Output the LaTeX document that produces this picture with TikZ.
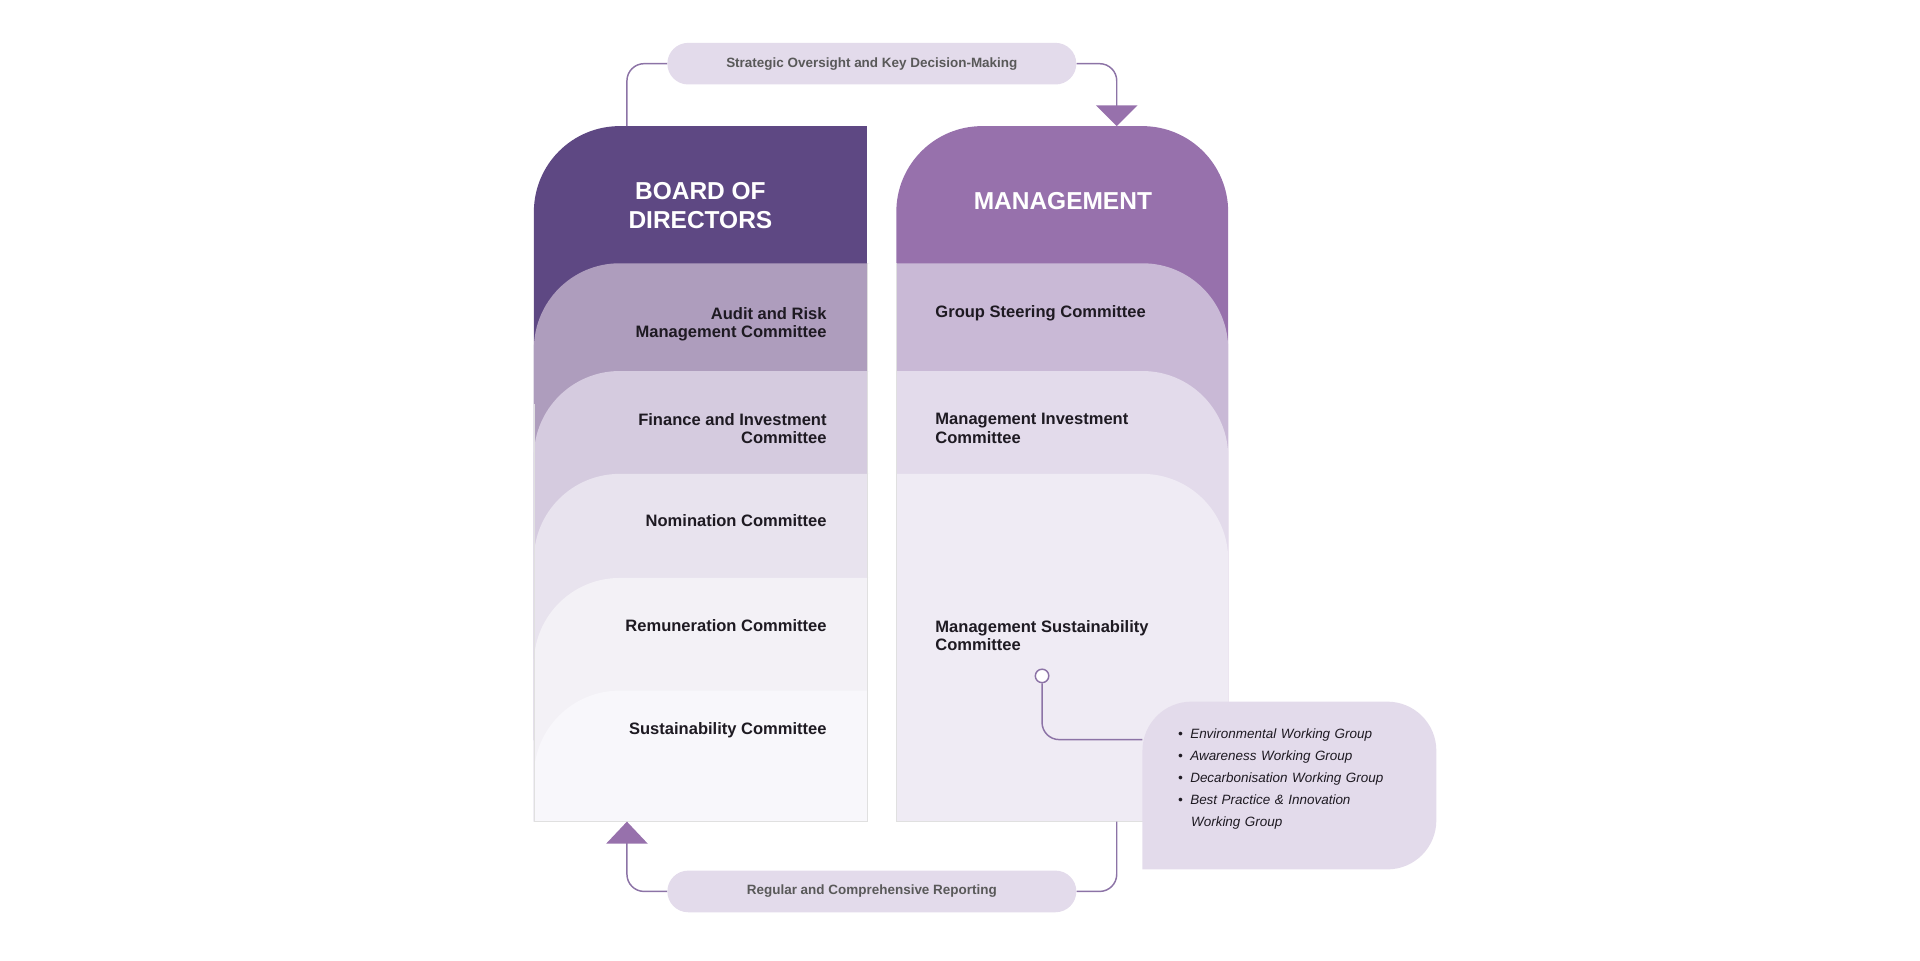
\documentclass[tikz,border=0pt]{standalone}
\usepackage{fontspec}
\setmainfont{Liberation Sans}
\usetikzlibrary{positioning}
\definecolor{bodDark}{HTML}{5E4883}
\definecolor{mgmDark}{HTML}{9771AC}
\definecolor{lineCol}{HTML}{8C73A6}
\definecolor{pillCol}{HTML}{E3DBEB}
\definecolor{txtCol}{HTML}{1E1A22}
\tikzset{
  band/.style={inner sep=0pt},
  lbl/.style={font=\bfseries\fontsize{13.5}{15}\selectfont, text=txtCol, inner sep=0.75pt},
  head/.style={font=\bfseries\fontsize{20}{24}\selectfont, text=white, inner sep=0.75pt},
  pill/.style={fill=pillCol, rounded corners=17pt, minimum width=334pt, minimum height=34pt, font=\bfseries\fontsize{11}{13}\selectfont, text=black!65},
  link/.style={draw=lineCol, line width=1.2pt, rounded corners=14pt},
  tip/.style={fill=mgmDark},
}
\begin{document}
\begin{tikzpicture}[x=1pt,y=-1pt]
\useasboundingbox (0,0) rectangle (1568,784);

%Board of directors column
\fill[bodDark, rounded corners=70pt] (708,671) -- (436,671) -- (436,103) -- (708,103) [sharp corners] -- cycle;
\fill[bodDark] (708,103) rectangle (600,671);
\foreach \y/\c in {215/AE9DBD,303/D5CBDF,387/E8E3EE,472/F3F1F6,564/F8F7FB}{
  \definecolor{bandCol}{HTML}{\c}
  \fill[bandCol] (708,671) -- (436,671) [rounded corners=70pt] -- (436,\y) -- (640,\y) [sharp corners] -- (708,\y) -- cycle;
}
\draw[black!12, line width=0.5pt] (436,330) -- (436,671) -- (708,671) -- (708,215);

%Management column
\fill[mgmDark, rounded corners=70pt] (732,671) -- (732,103) -- (1003,103) -- (1003,671) [sharp corners] -- cycle;
\foreach \y/\c in {215/C9B9D6,303/E3DBEB,387/EFEBF4}{
  \definecolor{bandCol}{HTML}{\c}
  \fill[bandCol] (732,671) -- (732,\y) -- (800,\y) [rounded corners=70pt] -- (1003,\y) [sharp corners] -- (1003,671) -- cycle;
}
\draw[black!12, line width=0.5pt] (732,215) -- (732,671) -- (1003,671);

%Headings and committee labels
\node[head, align=center] (bod) at (572,168) {BOARD OF\\DIRECTORS};
\node[head] (mgm) at (868,164) {MANAGEMENT};
\node[lbl, align=right, anchor=east] (arc) at (676,265) {Audit and Risk\\Management Committee};
\node[lbl, align=right, anchor=east] (fic) at (676,350) {Finance and Investment\\Committee};
\node[lbl, anchor=east] (nom) at (676,425) {Nomination Committee};
\node[lbl, anchor=east] (rem) at (676,511) {Remuneration Committee};
\node[lbl, anchor=east] (sus) at (676,596) {Sustainability Committee};
\node[lbl, anchor=west] (gsc) at (763,256) {Group Steering Committee};
\node[lbl, align=left, anchor=west] (mic) at (763,350) {Management Investment\\Committee};
\node[lbl, align=left, anchor=west] (msc) at (763,519) {Management Sustainability\\Committee};

%Working groups
\fill[pillCol, rounded corners=40pt] (933,710) -- (933,573) -- (1173,573) -- (1173,710) [sharp corners] -- cycle;
\node[font=\itshape\fontsize{11}{18}\selectfont, text=txtCol, align=left, anchor=north west, inner sep=0pt, text width=190pt] (wg) at (962,595)
  {\textbullet\hspace{6pt}Environmental Working Group\\
   \textbullet\hspace{6pt}Awareness Working Group\\
   \textbullet\hspace{6pt}Decarbonisation Working Group\\
   \textbullet\hspace{6pt}Best Practice \& Innovation\\
   \hspace{10.5pt}Working Group};
\node[circle, draw=lineCol, line width=1.2pt, fill=white, minimum size=11pt, inner sep=0pt] (dot) at (851,552) {};
\coordinate (wgIn) at (933,604);
\draw[link] (dot.south) -- (851,604) -- (wgIn);

%Oversight and reporting loops
\node[pill] (ovs) at (712,52) {Strategic Oversight and Key Decision-Making};
\node[pill] (rep) at (712,728) {Regular and Comprehensive Reporting};
\coordinate (bodTop) at (512,103);
\coordinate (mgmTop) at (912,88);
\coordinate (mgmBot) at (912,671);
\coordinate (bodBot) at (512,688);
\draw[link] (bodTop) |- (ovs.west);
\draw[link] (ovs.east) -| (mgmTop);
\fill[tip] (895,86) -- (929,86) -- (912,103) -- cycle;
\draw[link] (mgmBot) |- (rep.east);
\draw[link] (rep.west) -| (bodBot);
\fill[tip] (495,689) -- (529,689) -- (512,671) -- cycle;
\end{tikzpicture}
\end{document}
